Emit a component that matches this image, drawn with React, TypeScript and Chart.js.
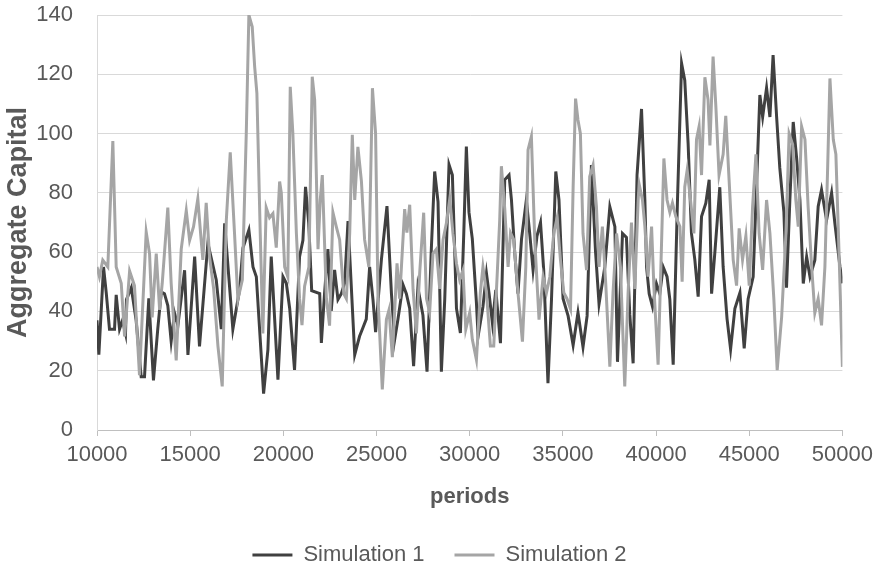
import React, { useEffect, useRef } from "react";
import { Chart, registerables } from "chart.js";

Chart.register(...registerables);

const X_MIN = 10000;
const X_MAX = 50000;
const X_STEP = 5000;
const Y_MIN = 0;
const Y_MAX = 140;
const Y_STEP = 20;

const seriesNames = ["Simulation 1", "Simulation 2"];
const xTitle = "periods";
const yTitle = "Aggregate Capital";

const sim1Periods = [
  10000, 10100, 10350, 10500, 10670, 10940, 11030, 11210, 11370, 11530,
  11580, 11840, 12100, 12370, 12550, 12780, 13030, 13260, 13450, 13620,
  13800, 13980, 14160, 14340, 14700, 14880, 15240, 15500, 15950, 16400,
  16670, 16850, 17290, 17650, 17830, 18150, 18370, 18550, 18940, 19170,
  19350, 19710, 19980, 20160, 20340, 20600, 20870, 21050, 21190, 21360,
  21520, 21950, 22040, 22210, 22390, 22570, 22750, 22930, 23110, 23290,
  23470, 23830, 24090, 24270, 24450, 24630, 24810, 24950, 25260, 25560,
  25800, 25970, 26150, 26420, 26600, 26780, 26990, 27220, 27490, 27710,
  27940, 28120, 28300, 28480, 28660, 28890, 29070, 29290, 29500, 29680,
  29820, 29960, 30140, 30360, 30450, 30710, 30900, 31040, 31220, 31400,
  31650, 31880, 32110, 32240, 32420, 32590, 32780, 33040, 33220, 33400,
  33610, 33800, 33970, 34200, 34390, 34620, 34790, 35010, 35280, 35550,
  35810, 36080, 36300, 36530, 36750, 36940, 37250, 37520, 37790, 37930,
  38200, 38410, 38590, 38770, 38980, 39220, 39400, 39490, 39630, 39810,
  40020, 40200, 40380, 40590, 40740, 40920, 41150, 41370, 41540, 41720,
  41900, 42080, 42260, 42440, 42670, 42850, 42980, 43150, 43420, 43600,
  43810, 44000, 44230, 44500, 44730, 44940, 45210, 45390, 45570, 45720,
  45930, 46110, 46280, 46470, 46640, 46860, 47000, 47180, 47360, 47540,
  47720, 47900, 48080, 48260, 48520, 48700, 48880, 49150, 49420, 49600,
  49870, 50000,
];

const sim1Values = [
  37, 25.4, 55, 46, 34, 34, 45.6, 34, 37, 32.6,
  44, 48, 37, 18, 18, 44.4, 16.7, 34, 46.6, 46,
  42, 30, 39.4, 35.2, 53.9, 25.3, 58.5, 28.2, 63, 50.6,
  34, 69.7, 34, 47.3, 61.4, 67.5, 55, 51.7, 12.3, 27,
  58.5, 17, 51.7, 49.5, 41, 20.3, 58.5, 64, 82, 70,
  47, 46, 29.4, 46, 61, 40.2, 54, 44, 46, 49.6,
  70.5, 25.4, 31.6, 34.5, 37.4, 55, 44, 33, 57.4, 75.5,
  46, 30.4, 37.4, 49, 46, 41, 21.5, 48, 38.7, 19.7,
  61, 87.2, 77, 19.7, 44, 89.5, 86, 41, 32.7, 66,
  95.6, 73.5, 64.5, 43, 31.6, 41.6, 52.8, 46, 36, 47.3,
  29.3, 84.4, 86, 77.6, 59.5, 46, 64.4, 77.6, 66.3, 53.9,
  65.4, 70, 54, 15.8, 44.2, 87.2, 77.6, 44.3, 38.5, 28.6,
  39.6, 28, 38.5, 89.4, 60.4, 42.5, 55, 75.3, 68.6, 23,
  66.3, 65, 39, 22.5, 86, 108.3, 77.6, 55, 46, 41.6,
  49.4, 46, 55, 51.7, 44, 22, 77.6, 123.7, 118, 96.7,
  66.3, 57.5, 45, 72, 76.5, 84.4, 46, 59.5, 81.9, 55,
  37.5, 27.3, 41, 46.3, 27.5, 44.2, 51.7, 82, 113, 105.6,
  115.4, 105.6, 126.5, 105.6, 88.4, 73.5, 48, 77.6, 103.9, 92,
  77.6, 49.4, 58.4, 51.7, 57.3, 75.4, 81, 70.8, 80, 69.5,
  55, 49.5,
];

const sim2Periods = [
  10000, 10130, 10310, 10580, 10850, 11030, 11300, 11480, 11750, 12010,
  12280, 12640, 12820, 12960, 13180, 13360, 13500, 13800, 13980, 14250,
  14520, 14790, 14970, 15180, 15410, 15590, 15680, 15860, 16040, 16260,
  16490, 16720, 16940, 17150, 17380, 17560, 17800, 18010, 18150, 18330,
  18460, 18580, 18760, 18900, 19080, 19260, 19440, 19620, 19800, 19890,
  20070, 20240, 20370, 20510, 20700, 20870, 21000, 21140, 21370, 21550,
  21680, 21860, 21980, 22090, 22310, 22480, 22660, 22840, 23020, 23240,
  23380, 23560, 23700, 23830, 24000, 24190, 24360, 24590, 24780, 24950,
  25080, 25310, 25530, 25670, 25850, 26100, 26240, 26510, 26630, 26780,
  26960, 27140, 27320, 27530, 27680, 27850, 28030, 28210, 28390, 28570,
  28750, 28930, 29100, 29290, 29460, 29640, 29790, 30000, 30140, 30360,
  30570, 30710, 30900, 31110, 31290, 31470, 31610, 31700, 31880, 32060,
  32190, 32360, 32590, 32830, 33010, 33130, 33310, 33490, 33720, 33940,
  34120, 34300, 34510, 34690, 34870, 35050, 35220, 35410, 35550, 35680,
  35810, 35940, 36080, 36270, 36440, 36620, 36800, 36940, 37120, 37300,
  37520, 37690, 37880, 38090, 38320, 38500, 38680, 38860, 39040, 39090,
  39270, 39400, 39570, 39760, 39880, 40110, 40240, 40420, 40590, 40740,
  40880, 41060, 41280, 41400, 41540, 41670, 41850, 42030, 42170, 42310,
  42440, 42620, 42790, 42890, 43060, 43210, 43380, 43600, 43740, 43920,
  44140, 44320, 44460, 44640, 44820, 45000, 45180, 45360, 45530, 45720,
  45930, 46110, 46320, 46500, 46740, 46970, 47140, 47330, 47500, 47630,
  47810, 47990, 48160, 48350, 48520, 48700, 48880, 49060, 49210, 49330,
  49510, 49650, 49830, 50000,
];

const sim2Values = [
  55, 51.7, 57.3, 55, 97.5, 55, 49.5, 31.6, 53.6, 48.7,
  18.5, 66.8, 59.5, 38, 59.5, 40.5, 49.5, 75, 49.5, 23.5,
  61, 74, 64, 68.6, 78, 64, 57.4, 76.6, 58.5, 47.6,
  28.3, 14.7, 70.8, 93.7, 66.3, 44, 50.7, 100, 140, 136,
  122.6, 113.6, 66.3, 32.6, 75, 71.6, 73, 61.5, 83.8, 80,
  55, 51.7, 115.8, 100, 66.3, 44.3, 35.4, 48.5, 55, 119.2,
  111.4, 61, 77.6, 86, 44.3, 35.2, 73.4, 68.6, 64.2, 46,
  44.3, 66.3, 99.6, 77.6, 95.5, 83.9, 64.2, 55, 115.3, 100,
  44.3, 13.7, 37.3, 40.5, 24.6, 56.2, 44.3, 74.5, 66.6, 76,
  47.5, 32.6, 53.4, 73.3, 44.3, 39.6, 59.5, 61, 47.6, 64.2,
  69.8, 78, 66.3, 56.2, 50.6, 53.9, 34, 39.6, 30.6, 23.7,
  46.3, 55, 46.3, 28.3, 28.3, 51.7, 70.8, 89, 74.7, 55,
  66.5, 64.2, 46.3, 29.8, 55, 94.5, 99, 64.2, 37.2, 51.7,
  46.3, 51.7, 66.3, 71.6, 57.4, 46.3, 44.3, 40.8, 82, 111.8,
  104.6, 100, 66.3, 53.9, 85.5, 89.4, 75.4, 55, 68.6, 49.4,
  21.4, 46.3, 66.3, 55, 14.7, 46.3, 70, 47.6, 77.6, 83,
  77.6, 68.6, 51.7, 68.6, 48.7, 22, 50.6, 91.6, 77.6, 73.4,
  76.6, 72, 68.6, 50, 82, 87.7, 77.6, 66.3, 98, 102.4,
  86, 119, 111.4, 96, 126, 109, 86, 93, 106, 84.3,
  57.4, 48.7, 68, 57.4, 65.5, 48.7, 75.4, 93, 66.3, 54,
  77.6, 66.3, 44.3, 20.2, 38.2, 66.3, 100, 96.3, 77.6, 68.6,
  102.4, 98, 75.4, 55, 39.5, 44.3, 35.3, 55, 89, 118.6,
  98, 93, 57.4, 21.3,
];

const DARK = "#404040";
const LIGHT = "#a5a5a5";
const TEXT = "#595959";
const GRID = "#d9d9d9";
const AXIS = "#bfbfbf";

const FAMILY = "'Liberation Sans', Arial, sans-serif";

export default function App() {
  const canvasRef = useRef<HTMLCanvasElement>(null);

  useEffect(() => {
    const canvas = canvasRef.current;
    if (!canvas) return;
    const tickFont = { family: FAMILY, size: 22, lineHeight: 1.2 };
    const chart = new Chart(canvas, {
      type: "line",
      data: {
        datasets: [
          {
            label: seriesNames[0],
            data: sim1Periods.map((p, i) => ({ x: p, y: sim1Values[i] })),
            borderColor: DARK,
            backgroundColor: DARK,
            borderWidth: 3,
            pointRadius: 0,
            tension: 0,
            fill: false,
            order: 1,
          },
          {
            label: seriesNames[1],
            data: sim2Periods.map((p, i) => ({ x: p, y: sim2Values[i] })),
            borderColor: LIGHT,
            backgroundColor: LIGHT,
            borderWidth: 3,
            pointRadius: 0,
            tension: 0,
            fill: false,
            order: 0,
          },
        ],
      },
      options: {
        animation: false,
        responsive: false,
        devicePixelRatio: 1,
        layout: { padding: { top: 15, right: 0, bottom: -5, left: 0 } },
        plugins: {
          tooltip: { enabled: false },
          legend: {
            position: "bottom",
            labels: {
              usePointStyle: true,
              pointStyle: "line",
              pointStyleWidth: 40,
              font: { family: FAMILY, size: 22 },
              color: TEXT,
              padding: 30,
              sort: (a: any, b: any) => a.datasetIndex - b.datasetIndex,
            },
          },
        },
        scales: {
          x: {
            type: "linear",
            min: X_MIN,
            max: X_MAX,
            afterFit: (s: any) => {
              s.height = 84;
            },
            ticks: {
              stepSize: X_STEP,
              callback: (v: any) => String(v),
              font: tickFont,
              color: TEXT,
              padding: 6,
              maxRotation: 0,
              autoSkip: false,
            },
            grid: {
              display: true,
              drawOnChartArea: false,
              drawTicks: true,
              tickLength: 6,
              color: AXIS,
              lineWidth: 1,
            },
            border: { display: true, color: AXIS, width: 1 },
            title: {
              display: true,
              text: xTitle,
              font: { family: FAMILY, size: 22, weight: "bold" },
              color: TEXT,
              padding: { top: 4, bottom: 4 },
            },
          },
          y: {
            type: "linear",
            min: Y_MIN,
            max: Y_MAX,
            afterFit: (s: any) => {
              s.width = 97;
            },
            ticks: {
              stepSize: Y_STEP,
              font: tickFont,
              color: TEXT,
              padding: 0,
            },
            grid: {
              color: GRID,
              drawTicks: true,
              tickLength: 24,
              tickColor: "rgba(0,0,0,0)",
              lineWidth: 1,
            },
            border: { display: true, color: GRID, width: 1 },
            title: {
              display: true,
              text: yTitle,
              font: { family: FAMILY, size: 27, weight: "bold" },
              color: TEXT,
              padding: { top: 2, bottom: 0 },
            },
          },
        },
      },
    } as any);
    return () => chart.destroy();
  }, []);

  return (
    <div
      style={{
        position: "fixed",
        left: 0,
        top: 0,
        width: 879,
        height: 571,
        background: "#ffffff",
      }}
    >
      <canvas
        ref={canvasRef}
        width={879}
        height={571}
        style={{ display: "block", width: 879, height: 571 }}
      />
    </div>
  );
}
